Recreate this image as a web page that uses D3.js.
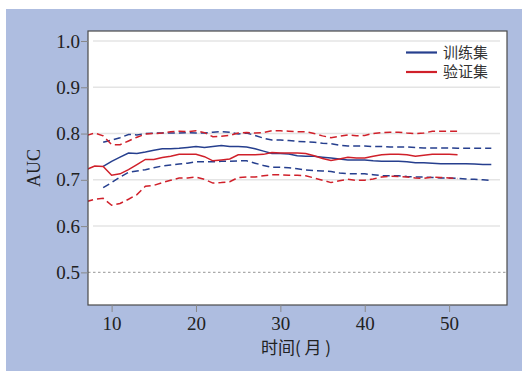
<!DOCTYPE html>
<html>
<head>
<meta charset="utf-8">
<script src="https://cdn.jsdelivr.net/npm/d3@7"></script>
<style>
  body { margin: 0; background: #fff; }
  svg { display: block; }
</style>
</head>
<body>
<svg id="chart" width="522" height="371"></svg>
<script>
// months for each series
var trainMonths = d3.range(9, 56);
var validMonths = d3.range(7, 52);

// training set AUC: mean, upper and lower bound
var trainMean = [0.729, 0.740, 0.749, 0.758, 0.757, 0.760, 0.764, 0.767, 0.767, 0.768,
    0.770, 0.772, 0.770, 0.772, 0.774, 0.772, 0.772, 0.771, 0.767, 0.762,
    0.757, 0.757, 0.756, 0.752, 0.751, 0.751, 0.749, 0.747, 0.745, 0.743,
    0.743, 0.743, 0.741, 0.740, 0.740, 0.740, 0.739, 0.737, 0.737, 0.736,
    0.735, 0.735, 0.735, 0.735, 0.734, 0.733, 0.733];
var trainUpper = [0.781, 0.786, 0.791, 0.798, 0.797, 0.800, 0.801, 0.801, 0.801, 0.801,
    0.802, 0.801, 0.801, 0.803, 0.804, 0.803, 0.799, 0.801, 0.796, 0.790,
    0.786, 0.786, 0.785, 0.783, 0.782, 0.781, 0.779, 0.778, 0.775, 0.773,
    0.773, 0.773, 0.772, 0.772, 0.771, 0.771, 0.771, 0.770, 0.769, 0.769,
    0.769, 0.769, 0.768, 0.768, 0.768, 0.768, 0.768];
var trainLower = [0.683, 0.694, 0.706, 0.716, 0.719, 0.722, 0.726, 0.730, 0.732, 0.734,
    0.736, 0.739, 0.739, 0.739, 0.740, 0.740, 0.741, 0.741, 0.736, 0.731,
    0.727, 0.727, 0.726, 0.724, 0.721, 0.720, 0.719, 0.718, 0.715, 0.713,
    0.713, 0.713, 0.711, 0.709, 0.709, 0.709, 0.707, 0.706, 0.706, 0.705,
    0.704, 0.704, 0.703, 0.702, 0.701, 0.700, 0.699];

// validation set AUC
var validMean = [0.722, 0.730, 0.729, 0.710, 0.713, 0.722, 0.733, 0.744, 0.744, 0.748,
    0.751, 0.755, 0.755, 0.755, 0.750, 0.741, 0.743, 0.745, 0.754, 0.754,
    0.754, 0.755, 0.759, 0.758, 0.758, 0.758, 0.757, 0.752, 0.746, 0.742,
    0.745, 0.749, 0.747, 0.747, 0.751, 0.754, 0.755, 0.755, 0.754, 0.751,
    0.753, 0.755, 0.755, 0.755, 0.754];
var validUpper = [0.796, 0.801, 0.795, 0.776, 0.776, 0.784, 0.792, 0.799, 0.800, 0.801,
    0.804, 0.805, 0.804, 0.806, 0.802, 0.793, 0.794, 0.796, 0.801, 0.802,
    0.801, 0.802, 0.806, 0.806, 0.805, 0.804, 0.804, 0.800, 0.795, 0.791,
    0.794, 0.797, 0.795, 0.796, 0.800, 0.802, 0.803, 0.803, 0.801, 0.800,
    0.801, 0.805, 0.805, 0.805, 0.805];
var validLower = [0.653, 0.658, 0.660, 0.645, 0.649, 0.658, 0.668, 0.686, 0.688, 0.694,
    0.699, 0.704, 0.704, 0.706, 0.701, 0.693, 0.694, 0.696, 0.705, 0.706,
    0.706, 0.709, 0.711, 0.711, 0.710, 0.710, 0.709, 0.704, 0.699, 0.694,
    0.698, 0.701, 0.699, 0.699, 0.702, 0.706, 0.708, 0.707, 0.706, 0.704,
    0.703, 0.706, 0.705, 0.704, 0.703];

var xTicks = [10, 20, 30, 40, 50];
var yTicks = [0.5, 0.6, 0.7, 0.8, 0.9, 1.0];
var gridTicks = [0.6, 0.7, 0.8, 0.9, 1.0];
var legendLabels = ['训练集', '验证集'];

var blue = '#263f8e', red = '#d0202a';

var svg = d3.select('#chart');
svg.append('rect').attr('x', 6).attr('y', 9).attr('width', 516).attr('height', 362)
    .attr('fill', '#aebde0');

// panel edges (named to avoid window.top)
var pLeft = 88, pRight = 507, pTop = 31, pBottom = 305;
var x = d3.scaleLinear().domain([7.2, 56.86]).range([pLeft, pRight]);
var y = d3.scaleLinear().domain([0.4295, 1.0216]).range([pBottom, pTop]);

svg.append('rect').attr('x', pLeft).attr('y', pTop)
    .attr('width', pRight - pLeft).attr('height', pBottom - pTop)
    .attr('fill', '#fff');

svg.append('defs').append('clipPath').attr('id', 'clip')
    .append('rect').attr('x', pLeft).attr('y', pTop)
    .attr('width', pRight - pLeft).attr('height', pBottom - pTop);

// grid
svg.append('g').selectAll('line').data(gridTicks).enter().append('line')
    .attr('x1', 93).attr('x2', 500)
    .attr('y1', d => y(d)).attr('y2', d => y(d))
    .attr('stroke', '#e4e4e4').attr('stroke-width', 1.5);

svg.append('line').attr('x1', pLeft).attr('x2', pRight)
    .attr('y1', y(0.5)).attr('y2', y(0.5))
    .attr('stroke', '#aaa').attr('stroke-width', 1.2)
    .attr('stroke-dasharray', '2.5,2.5');

var plot = svg.append('g').attr('clip-path', 'url(#clip)');

function drawLine(months, vals, color, dashed) {
    var line = d3.line().x((d, i) => x(months[i])).y(d => y(d));
    plot.append('path').datum(vals)
        .attr('d', line)
        .attr('fill', 'none')
        .attr('stroke', color)
        .attr('stroke-width', 1.5)
        .attr('stroke-dasharray', dashed ? '7,4' : null);
}

drawLine(trainMonths, trainUpper, blue, true);
drawLine(trainMonths, trainLower, blue, true);
drawLine(validMonths, validUpper, red, true);
drawLine(validMonths, validLower, red, true);
drawLine(trainMonths, trainMean, blue, false);
drawLine(validMonths, validMean, red, false);

// frame
svg.append('rect').attr('x', pLeft).attr('y', pTop)
    .attr('width', pRight - pLeft).attr('height', pBottom - pTop)
    .attr('fill', 'none').attr('stroke', '#4a4a4a').attr('stroke-width', 1.2);

// axes
var yAxis = svg.append('g').attr('transform', 'translate(' + pLeft + ',0)')
    .call(d3.axisLeft(y).tickValues(yTicks).tickFormat(d3.format('.1f')).tickSize(7).tickPadding(1));
var xAxis = svg.append('g').attr('transform', 'translate(0,' + pBottom + ')')
    .call(d3.axisBottom(x).tickValues(xTicks).tickSize(7).tickPadding(5));

[yAxis, xAxis].forEach(function(g) {
    g.select('.domain').remove();
    g.selectAll('.tick line').attr('stroke', '#888');
    g.selectAll('.tick text')
        .attr('fill', '#222')
        .style('font-family', '"Liberation Serif", "Times New Roman", serif')
        .style('font-size', '19px');
});

svg.append('text')
    .attr('transform', 'translate(40,' + ((pTop + pBottom) / 2) + ') rotate(-90)')
    .attr('text-anchor', 'middle')
    .attr('fill', '#222')
    .style('font-family', '"Liberation Serif", "Times New Roman", serif')
    .style('font-size', '18px')
    .text('AUC');

svg.append('text')
    .attr('x', 296).attr('y', 354)
    .attr('text-anchor', 'middle')
    .attr('fill', '#222')
    .style('font-family', '"Noto Sans CJK SC", sans-serif')
    .style('font-size', '17px')
    .style('white-space', 'pre')
    .text('时间( 月 )');

// legend
var legend = svg.append('g').selectAll('g').data(legendLabels).enter().append('g')
    .attr('transform', (d, i) => 'translate(0,' + (52.5 + i * 19.5) + ')');
legend.append('line').attr('x1', 406).attr('x2', 437)
    .attr('stroke', (d, i) => i ? red : blue).attr('stroke-width', 2.2);
legend.append('text').attr('x', 443).attr('dy', '0.35em')
    .attr('fill', '#333')
    .style('font-family', '"Noto Sans CJK SC", sans-serif')
    .style('font-size', '15px')
    .text(d => d);
</script>
</body>
</html>
